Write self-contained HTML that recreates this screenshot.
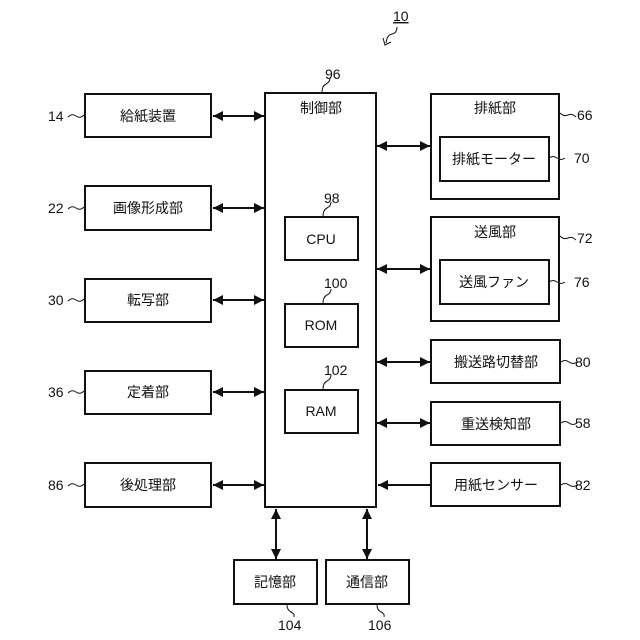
<!DOCTYPE html><html><head><meta charset="utf-8"><style>body{margin:0;background:#fff}svg{display:block}svg text{font-family:"Liberation Sans","Noto Sans CJK JP",sans-serif;fill:#111}</style></head><body>
<svg width="640" height="640" viewBox="0 0 640 640" xmlns="http://www.w3.org/2000/svg">
<defs>
<marker id="a" viewBox="0 0 10 10" refX="10" refY="5" markerWidth="5" markerHeight="5" orient="auto-start-reverse"><path d="M0,0L10,5L0,10z" fill="#111"/></marker>
</defs>
<g fill="none" stroke="#111" stroke-width="2">
<rect x="85" y="94" width="126" height="43"/>
<rect x="85" y="186" width="126" height="44"/>
<rect x="85" y="279" width="126" height="43"/>
<rect x="85" y="371" width="126" height="43"/>
<rect x="85" y="463" width="126" height="44"/>
<rect x="265" y="93" width="111" height="414"/>
<rect x="285" y="217" width="73" height="43"/>
<rect x="285" y="304" width="73" height="43"/>
<rect x="285" y="390" width="73" height="43"/>
<rect x="431" y="94" width="128" height="105"/>
<rect x="440" y="137" width="109" height="44"/>
<rect x="431" y="217" width="128" height="104"/>
<rect x="440" y="260" width="109" height="44"/>
<rect x="431" y="340" width="129" height="43"/>
<rect x="431" y="402" width="129" height="43"/>
<rect x="431" y="463" width="129" height="43"/>
<rect x="234" y="560" width="83" height="44"/>
<rect x="326" y="560" width="83" height="44"/>
</g>
<g stroke="#111" stroke-width="2" marker-start="url(#a)" marker-end="url(#a)">
<line x1="213" y1="116" x2="264" y2="116"/>
<line x1="213" y1="208" x2="264" y2="208"/>
<line x1="213" y1="300" x2="264" y2="300"/>
<line x1="213" y1="392" x2="264" y2="392"/>
<line x1="213" y1="485" x2="264" y2="485"/>
<line x1="377" y1="146" x2="430" y2="146"/>
<line x1="377" y1="269" x2="430" y2="269"/>
<line x1="377" y1="362" x2="430" y2="362"/>
<line x1="377" y1="423" x2="430" y2="423"/>
<line x1="276" y1="509" x2="276" y2="559"/>
<line x1="367" y1="509" x2="367" y2="559"/>
</g>
<line x1="431" y1="485" x2="378" y2="485" stroke="#111" stroke-width="2" marker-end="url(#a)"/>
<g font-size="14" text-anchor="middle">
<text x="148" y="121">給紙装置</text>
<text x="148" y="213">画像形成部</text>
<text x="148" y="305">転写部</text>
<text x="148" y="397">定着部</text>
<text x="148" y="490">後処理部</text>
<text x="321" y="113">制御部</text>
<text x="321" y="244">CPU</text>
<text x="321" y="330">ROM</text>
<text x="321" y="416">RAM</text>
<text x="495" y="113">排紙部</text>
<text x="494" y="164">排紙モーター</text>
<text x="495" y="237">送風部</text>
<text x="494" y="287">送風ファン</text>
<text x="496" y="367">搬送路切替部</text>
<text x="496" y="429">重送検知部</text>
<text x="496" y="490">用紙センサー</text>
<text x="275" y="587">記憶部</text>
<text x="367" y="587">通信部</text>
</g>
<g font-size="14">
<text x="48" y="121">14</text><text x="48" y="213">22</text><text x="48" y="305">30</text><text x="48" y="397">36</text><text x="48" y="490">86</text>
<text x="577" y="120">66</text><text x="574" y="163">70</text><text x="577" y="243">72</text><text x="574" y="287">76</text>
<text x="575" y="367">80</text><text x="575" y="428">58</text><text x="575" y="490">82</text>
<text x="325" y="79">96</text><text x="324" y="203">98</text><text x="324" y="288">100</text><text x="324" y="375">102</text>
<text x="278" y="630">104</text><text x="368" y="630">106</text>
<text x="393" y="21" text-decoration="underline">10</text>
</g>
<g fill="none" stroke="#111" stroke-width="1">
<path d="M68,117 q4,-4 8,-1 t8,-1"/><path d="M68,209 q4,-4 8,-1 t8,-1"/><path d="M68,301 q4,-4 8,-1 t8,-1"/><path d="M68,393 q4,-4 8,-1 t8,-1"/><path d="M68,486 q4,-4 8,-1 t8,-1"/>
<path d="M560,113 q4,4 8,2 t8,2"/><path d="M549,158 q4,-3 8,0 t8,0"/><path d="M560,236 q4,4 8,2 t8,2"/><path d="M549,282 q4,-3 8,0 t8,0"/>
<path d="M561,362 q4,-3 8,0 t8,0"/><path d="M561,423 q4,-3 8,0 t8,0"/><path d="M561,485 q4,-3 8,0 t8,0"/>
<path d="M322,92 q0,-6 4,-8 t4,-6"/><path d="M323,216 q0,-6 4,-8 t4,-6"/><path d="M323,303 q0,-6 4,-8 t4,-6"/><path d="M323,389 q0,-6 4,-8 t4,-6"/>
<path d="M287,605 q0,5 4,7 t3,5"/><path d="M377,605 q0,5 4,7 t3,5"/>
<path d="M397,27 q0,6 -5,7 t-6,9"/><path d="M383,38 l2,7 l6,-3"/>
</g>
</svg>
</body></html>
